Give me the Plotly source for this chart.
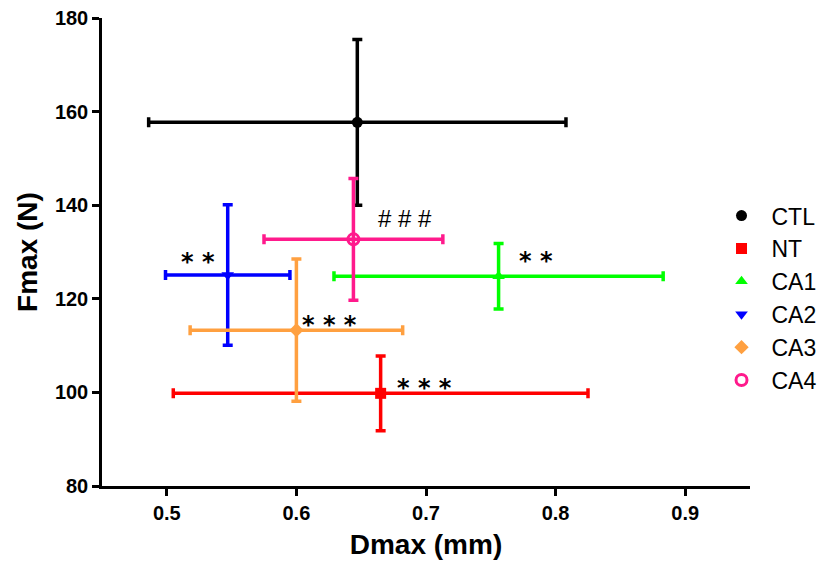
import plotly.graph_objects as go

# Group means and SD for each treatment
groups = ["CTL", "NT", "CA1", "CA2", "CA3", "CA4"]
dmax = [0.647, 0.665, 0.756, 0.547, 0.600, 0.644]
dmax_err = [0.161, 0.160, 0.127, 0.048, 0.082, 0.069]
fmax = [157.7, 99.8, 124.8, 125.1, 113.3, 132.7]
fmax_err = [17.7, 8.0, 7.0, 15.0, 15.2, 13.0]

colors = ["#000000", "#ff0000", "#00ff00", "#0000ff", "#ffa040", "#ff1a8c"]
symbols = ["circle", "square", "triangle-up", "triangle-down", "diamond", "circle-open"]

# Significance marks
sig_text = ["* *", "# # #", "* *", "* * *", "* * *"]
sig_x = [0.524, 0.6835, 0.7846, 0.6257, 0.6988]
sig_y = [129.4, 137.3, 129.6, 116.0, 102.4]
sig_font = ["DejaVu Sans", "Liberation Sans", "DejaVu Sans", "DejaVu Sans", "DejaVu Sans"]
sig_weight = ["bold", "normal", "bold", "bold", "bold"]
sig_size = [24, 24, 24, 24, 24]
sig_shift = [-7, -1, -7, -7, -7]

FONT = "Liberation Sans, Arial, sans-serif"

fig = go.Figure()
for i, g in enumerate(groups):
    fig.add_trace(go.Scatter(
        x=[dmax[i]], y=[fmax[i]], mode="markers", name=g,
        legendgroup=g,
        marker=dict(symbol=symbols[i], color=colors[i], size=11,
                    line=dict(color=colors[i], width=3 if symbols[i] == "circle-open" else 0)),
        error_x=dict(type="data", array=[dmax_err[i]], color=colors[i], thickness=3.5, width=5),
        error_y=dict(type="data", array=[fmax_err[i]], color=colors[i], thickness=3.5, width=5),
    ))

for t, x, y, f, w, s, sh in zip(sig_text, sig_x, sig_y, sig_font, sig_weight, sig_size, sig_shift):
    fig.add_annotation(x=x, y=y, text=t, showarrow=False, yshift=sh,
                       font=dict(family=f, size=s, color="black", weight=w))

axis_common = dict(
    showline=True, linecolor="black", linewidth=2.5, showgrid=False, zeroline=False,
    ticks="outside", ticklen=7, tickwidth=2.5, tickcolor="black",
    tickfont=dict(family=FONT, size=20, color="black", weight="bold"),
)

fig.update_xaxes(range=[0.45, 0.95], tickvals=[0.5, 0.6, 0.7, 0.8, 0.9],
                 title=dict(text="Dmax (mm)", standoff=12,
                            font=dict(family=FONT, size=28, color="black", weight="bold")),
                 **axis_common)
fig.update_yaxes(range=[80, 180], tickvals=[80, 100, 120, 140, 160, 180],
                 title=dict(text="Fmax (N)", standoff=10,
                            font=dict(family=FONT, size=28, color="black", weight="bold")),
                 **axis_common)

fig.update_layout(
    width=823, height=563,
    margin=dict(l=102, r=73, t=18, b=77, autoexpand=False),
    paper_bgcolor="white", plot_bgcolor="white",
    legend=dict(x=0.9406, y=0.6237, xanchor="left", yanchor="top", tracegroupgap=0,
                itemwidth=50,
                font=dict(family=FONT, size=23, color="black"),
                bgcolor="rgba(0,0,0,0)"),
)

fig.write_html("out.html")
